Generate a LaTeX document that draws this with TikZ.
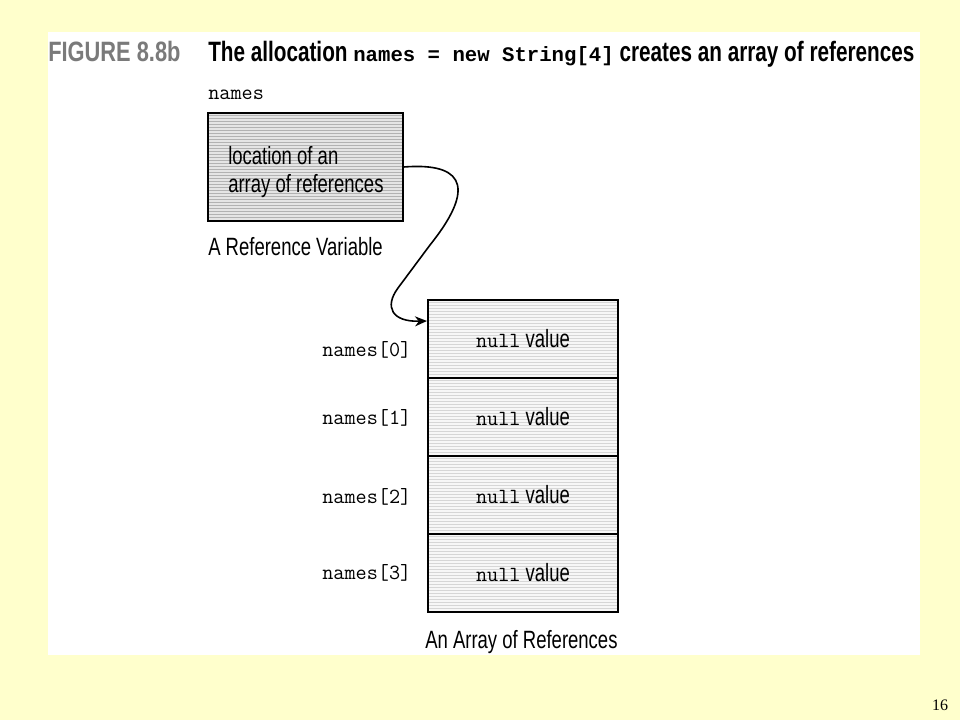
\documentclass[tikz,border=0pt]{standalone}
\usepackage{fontspec}
\setmainfont{Liberation Sans}
\newfontfamily\narrow[FakeStretch=0.74]{Liberation Sans}
\newfontfamily\titlefont[FakeStretch=0.74]{Liberation Sans}
\newfontfamily\figfont[FakeStretch=0.78]{Liberation Sans}
\newfontfamily\courbold{Liberation Mono}
\newfontfamily\serifnum{Liberation Serif}
\usetikzlibrary{arrows.meta,calc}
\definecolor{slidebg}{HTML}{FFFFCC}
\definecolor{figgray}{HTML}{7A7A7A}
\tikzset{
  lbl/.style={inner sep=0pt, font=\narrow\fontsize{18.75}{21}\selectfont},
  code/.style={inner sep=0pt, font=\ttfamily\fontsize{16.2}{18}\selectfont},
  cell/.style={draw, line width=1.5pt, minimum width=142.5pt, minimum height=58.5pt, inner sep=0pt, font=\narrow\fontsize{18.75}{21}\selectfont},
  hatchA/.style={draw=black!30, line width=0.45pt},
  hatchB/.style={draw=black!16, line width=0.45pt},
  conn/.style={line width=1.2pt, -{Stealth[length=9pt,width=7.5pt]}}
}
\begin{document}
\begin{tikzpicture}[x=0.75pt,y=-0.75pt]
\useasboundingbox (0,0) rectangle (960,720);
\fill[slidebg] (0,0) rectangle (960,720);
\fill[white] (48,32) rectangle (920,655);

% title
\node[anchor=base west, inner sep=0pt, text=figgray, font=\figfont\bfseries\fontsize{21}{24}\selectfont] (fig) at (48,62) {FIGURE 8.8b};
\node[anchor=base west, inner sep=0pt, font=\titlefont\bfseries\fontsize{21}{24}\selectfont] (title) at (208,62)
  {The allocation {\courbold\bfseries\fontsize{15.5}{17}\selectfont names = new String[4]} creates an array of references};

% reference variable
\node[code, anchor=base west] (nm) at (208,100) {names};
\fill[black!10] (208,113) rectangle (403,221);
\begin{scope}
\clip (208,113) rectangle (403,221);
\foreach \y in {115,118,...,221} \draw[hatchA] (208,\y) -- (403,\y);
\end{scope}
\node[draw, line width=1.1pt, minimum width=146.25pt, minimum height=81pt, inner sep=0pt] (box) at (305.5,167) {};
\node[lbl, anchor=base west] (loc1) at (228,165) {location of an};
\node[lbl, anchor=base west] (loc2) at (228,193) {array of references};
\node[lbl, anchor=base west] (refvar) at (208,256) {A Reference Variable};

% array
\fill[black!3] (428,300) rectangle (618,612);
\begin{scope}
\clip (428,300) rectangle (618,612);
\foreach \y in {302,305,...,612} \draw[hatchB] (428,\y) -- (618,\y);
\end{scope}
\node[cell] (c0) at (523,339) {{\ttfamily\fontsize{16.2}{18}\selectfont null} value};
\node[cell] (c1) at (523,417) {{\ttfamily\fontsize{16.2}{18}\selectfont null} value};
\node[cell] (c2) at (523,495) {{\ttfamily\fontsize{16.2}{18}\selectfont null} value};
\node[cell] (c3) at (523,573) {{\ttfamily\fontsize{16.2}{18}\selectfont null} value};

\node[code, anchor=west] (n0) at (322,350) {names[0]};
\node[code, anchor=west] (n1) at (322,418) {names[1]};
\node[code, anchor=west] (n2) at (322,497) {names[2]};
\node[code, anchor=west] (n3) at (322,573) {names[3]};

\node[lbl, anchor=base west] (arrlbl) at (425,648) {An Array of References};

% connector
\coordinate (tip) at ($(c0.north west)+(0,22)$);
\draw[conn] (box.east) .. controls (455,163) and (482,180) .. (430,245)
  -- (398,288) .. controls (384,307) and (392,322) .. (tip);

% page number
\node[inner sep=0pt, font=\serifnum\fontsize{12}{14}\selectfont] (pg) at (940,705) {16};
\end{tikzpicture}
\end{document}
